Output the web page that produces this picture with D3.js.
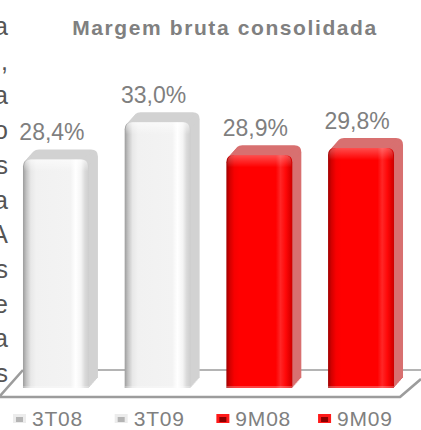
<!DOCTYPE html>
<html>
<head>
<meta charset="utf-8">
<script src="https://cdn.jsdelivr.net/npm/d3@7"></script>
<style>
html, body { margin: 0; padding: 0; background: #fff; overflow: hidden; }
svg { display: block; font-family: "Liberation Sans", Arial, sans-serif; }
</style>
</head>
<body>
<svg id="chart" width="421" height="430"></svg>
<script>
const categories = ["3T08", "3T09", "9M08", "9M09"];
const values = [28.4, 33.0, 28.9, 29.8];
const chartTitle = "Margem bruta consolidada";
// end of the text column next to the chart, cut off by the picture edge
const sideText = ["a", ",", "a", "o", "s", "a", "A", "s", "e", "a", "s"];

const width = 421,
    height = 430,
    depth = 9,
    rise = 10,
    svg = d3.select("#chart"),
    defs = svg.append("defs");

const x = d3.scaleBand()
    .domain(categories)
    .range([0, 426])
    .paddingInner(0.263)
    .paddingOuter(0.226);

const y = d3.scaleLinear()
    .domain([0, 40])
    .range([388, 66]);

const frontW = x.bandwidth() - depth;

// white bars for the quarters, red for the nine months
function isRed(c) { return c.indexOf("M") > 0; }

const looks = {
    white: {
        side: "#d2d2d2",
        shine: 0.6,
        stops: [[0, "#9c9c9c"], [0.05, "#c2c2c2"], [0.12, "#e8e8e8"], [0.2, "#f1f1f1"],
                [0.72, "#f3f3f3"], [0.8, "#ffffff"], [0.88, "#f4f4f4"], [0.94, "#dadada"], [1, "#cdcdcd"]]
    },
    red: {
        side: "#d87070",
        shine: 0.3,
        stops: [[0, "#a00000"], [0.05, "#d20000"], [0.12, "#f70000"], [0.2, "#ff0000"],
                [0.75, "#ff0000"], [0.82, "#ff2626"], [0.9, "#ff0808"], [0.96, "#e20000"], [1, "#cc0000"]]
    }
};

Object.keys(looks).forEach(function(k) {
    let g = defs.append("linearGradient").attr("id", "front-" + k)
        .attr("x1", 0).attr("x2", 1).attr("y1", 0).attr("y2", 0);
    looks[k].stops.forEach(function(s) {
        g.append("stop").attr("offset", s[0]).attr("stop-color", s[1]);
    });
    let h = defs.append("linearGradient").attr("id", "shine-" + k)
        .attr("x1", 0).attr("x2", 0).attr("y1", 0).attr("y2", 1);
    h.append("stop").attr("offset", 0).attr("stop-color", "#fff").attr("stop-opacity", looks[k].shine);
    h.append("stop").attr("offset", 1).attr("stop-color", "#fff").attr("stop-opacity", 0);
});

function barPath(x0, x1, top, bottom, r) {
    return "M" + x0 + "," + bottom +
        " L" + x0 + "," + (top + r) +
        " Q" + x0 + "," + top + " " + (x0 + r) + "," + top +
        " L" + (x1 - r) + "," + top +
        " Q" + x1 + "," + top + " " + x1 + "," + (top + r) +
        " L" + x1 + "," + bottom + " Z";
}

// text column on the left
svg.append("g")
    .selectAll("text")
    .data(sideText)
    .enter().append("text")
    .attr("x", 8)
    .attr("y", function(d, i) { return 35 + i * 34.7; })
    .attr("text-anchor", "end")
    .style("font-size", "25px")
    .style("fill", "#555")
    .text(function(d) { return d; });

// title
svg.append("text")
    .attr("x", 225)
    .attr("y", 35)
    .attr("text-anchor", "middle")
    .style("font-size", "21px")
    .style("font-weight", "bold")
    .style("letter-spacing", "1.6px")
    .style("fill", "#808080")
    .text(chartTitle);

// floor
const base = y(0);
const floor = svg.append("g").attr("class", "floor")
    .attr("fill", "none")
    .attr("stroke-linejoin", "round");

floor.append("path")
    .attr("d", "M23," + (base - 18) + " L421," + (base - 18))
    .attr("stroke", "#b4b4b4")
    .attr("stroke-width", 2.2);

floor.append("path")
    .attr("d", "M23," + (base - 18) + " L0," + (base + 8) +
        " M421," + (base - 9) + " L400," + (base + 9) + " L0," + (base + 9))
    .attr("stroke", "#9c9c9c")
    .attr("stroke-width", 2.6);

// bars
const bars = svg.append("g").attr("class", "bars")
    .selectAll("g")
    .data(categories)
    .enter().append("g");

bars.each(function(c, i) {
    let g = d3.select(this),
        kind = isRed(c) ? "red" : "white",
        x0 = x(c),
        x1 = x0 + frontW,
        top = y(values[i]);

    for (let k = depth; k >= 1; k--) {
        g.append("path")
            .attr("d", barPath(x0 + k, x1 + k, top - k * rise / depth, base - k * rise / depth, 7))
            .attr("fill", looks[kind].side);
    }

    g.append("path")
        .attr("d", barPath(x0, x1, top, base, 7))
        .attr("fill", "url(#front-" + kind + ")");

    g.append("path")
        .attr("d", barPath(x0 + 1, x1 - 1, top, top + 12, 7))
        .attr("fill", "url(#shine-" + kind + ")");

    g.append("rect")
        .attr("x", x0)
        .attr("y", base - 2)
        .attr("width", frontW)
        .attr("height", 2)
        .attr("fill", "#fff")
        .attr("opacity", 0.25);
});

// value labels
svg.append("g")
    .selectAll("text")
    .data(categories)
    .enter().append("text")
    .attr("x", function(c) { return x(c) + frontW / 2 - 4; })
    .attr("y", function(c, i) { return y(values[i]) - 19; })
    .attr("text-anchor", "middle")
    .style("font-size", "23px")
    .style("fill", "#7f7f7f")
    .text(function(c, i) { return values[i].toFixed(1).replace(".", ",") + "%"; });

// legend
const legend = svg.append("g")
    .selectAll("g")
    .data(categories)
    .enter().append("g")
    .attr("transform", function(c) { return "translate(" + x(c) + ",0)"; });

legend.append("rect")
    .attr("x", -10)
    .attr("y", 414)
    .attr("width", 13)
    .attr("height", 9)
    .attr("fill", function(c) { return isRed(c) ? "#ff1a1a" : "#ececec"; });

legend.append("rect")
    .attr("x", -7)
    .attr("y", 417)
    .attr("width", 7)
    .attr("height", 5)
    .attr("fill", function(c) { return isRed(c) ? "#8a0000" : "#b4b4b4"; });

legend.append("text")
    .attr("x", 9)
    .attr("y", 426)
    .style("font-size", "21px")
    .style("letter-spacing", "0.8px")
    .style("fill", "#808080")
    .text(function(c) { return c; });
</script>
</body>
</html>
